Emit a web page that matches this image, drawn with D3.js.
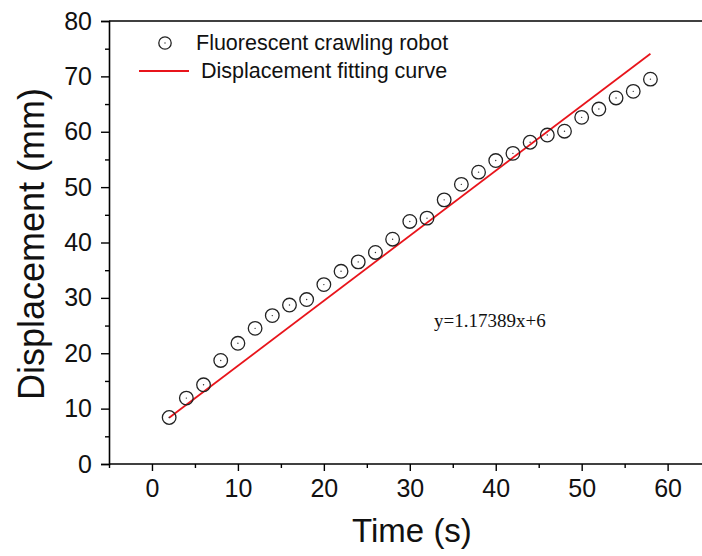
<!DOCTYPE html>
<html><head><meta charset="utf-8">
<script src="https://cdn.jsdelivr.net/npm/d3@7"></script>
<style>body{margin:0;background:#fff}svg{display:block}</style>
</head><body>
<script>
const timeValues = [2,4,6,8,10,12,14,16,18,20,22,24,26,28,30,32,34,36,38,40,42,44,46,48,50,52,54,56,58];
const displacementValues = [8.4,11.9,14.3,18.7,21.8,24.5,26.8,28.7,29.7,32.4,34.8,36.5,38.2,40.6,43.8,44.4,47.7,50.5,52.7,54.8,56.1,58.1,59.4,60.1,62.6,64.1,66.1,67.3,69.5];
const fitSlope = 1.17389, fitIntercept = 6;
const fitRange = [2, 58];
const xTicks = [0,10,20,30,40,50,60];
const yTicks = [0,10,20,30,40,50,60,70,80];
const seriesNames = ["Fluorescent crawling robot","Displacement fitting curve"];
const equationLabel = "y=1.17389x+6";

const W = 702, H = 556;
const svg = d3.select("body").append("svg").attr("width", W).attr("height", H);
const x = d3.scaleLinear().domain([-5, 64]).range([109, 702]);
const y = d3.scaleLinear().domain([0, 80]).range([464, 21]);
const font = "Arial, 'Liberation Sans', sans-serif";

// frame top
svg.append("line").attr("x1", x(-5)).attr("x2", W).attr("y1", y(80)).attr("y2", y(80)).attr("stroke", "#000").attr("stroke-width", 1.6);

const xAxis = svg.append("g").attr("transform", `translate(0,${y(0)})`)
  .call(d3.axisBottom(x).tickValues(xTicks).tickSize(7).tickPadding(8).tickFormat(d3.format("d")));
const xMinor = svg.append("g").attr("transform", `translate(0,${y(0)})`)
  .call(d3.axisBottom(x).tickValues(d3.range(-5, 65, 10)).tickSize(4).tickFormat(""));
const yAxis = svg.append("g").attr("transform", `translate(${x(-5)},0)`)
  .call(d3.axisLeft(y).tickValues(yTicks).tickSize(8).tickPadding(9).tickFormat(d3.format("d")));
const yMinor = svg.append("g").attr("transform", `translate(${x(-5)},0)`)
  .call(d3.axisLeft(y).tickValues(d3.range(5, 80, 10)).tickSize(4).tickFormat(""));
[xAxis, xMinor, yAxis, yMinor].forEach(g => {
  g.select(".domain").attr("stroke", "#000").attr("stroke-width", 1.6);
  g.selectAll(".tick line").attr("stroke", "#000").attr("stroke-width", 1.4);
  g.selectAll("text").attr("font-family", font).attr("font-size", 25).attr("fill", "#111");
});
xMinor.select(".domain").remove();
yMinor.select(".domain").remove();
xAxis.select(".domain").attr("d", `M${x(-5)},0H${W}`);

// axis titles
svg.append("text").attr("x", 412).attr("y", 542).attr("text-anchor", "middle")
  .attr("font-family", font).attr("font-size", 33).attr("fill", "#111").text("Time (s)");
svg.append("text").attr("transform", `translate(44,244) rotate(-90)`).attr("text-anchor", "middle")
  .attr("font-family", font).attr("font-size", 36).attr("fill", "#111").text("Displacement (mm)");

// fit line
svg.append("line")
  .attr("x1", x(fitRange[0])).attr("y1", y(fitSlope * fitRange[0] + fitIntercept))
  .attr("x2", x(fitRange[1])).attr("y2", y(fitSlope * fitRange[1] + fitIntercept))
  .attr("stroke", "#e8141b").attr("stroke-width", 1.8);

// points
const pts = svg.append("g");
timeValues.forEach((t, i) => {
  pts.append("circle").attr("cx", x(t)).attr("cy", y(displacementValues[i])).attr("r", 6.8)
    .attr("fill", "none").attr("stroke", "#222").attr("stroke-width", 1.3);
  pts.append("circle").attr("cx", x(t)).attr("cy", y(displacementValues[i])).attr("r", 0.7).attr("fill", "#333");
});

// equation
svg.append("text").attr("x", 434).attr("y", 327).attr("font-family", "'Times New Roman', 'Liberation Serif', serif")
  .attr("font-size", 19).attr("fill", "#111").text(equationLabel);

// legend
svg.append("circle").attr("cx", 165).attr("cy", 43).attr("r", 6.2).attr("fill", "none").attr("stroke", "#222").attr("stroke-width", 1.3);
svg.append("circle").attr("cx", 165).attr("cy", 43).attr("r", 0.7).attr("fill", "#333");
svg.append("text").attr("x", 196).attr("y", 50).attr("font-family", font).attr("font-size", 21.5).attr("fill", "#111").text(seriesNames[0]);
svg.append("line").attr("x1", 139).attr("x2", 189).attr("y1", 71).attr("y2", 71).attr("stroke", "#e8141b").attr("stroke-width", 1.8);
svg.append("text").attr("x", 201).attr("y", 78).attr("font-family", font).attr("font-size", 21.5).attr("fill", "#111").text(seriesNames[1]);
</script>
</body></html>
